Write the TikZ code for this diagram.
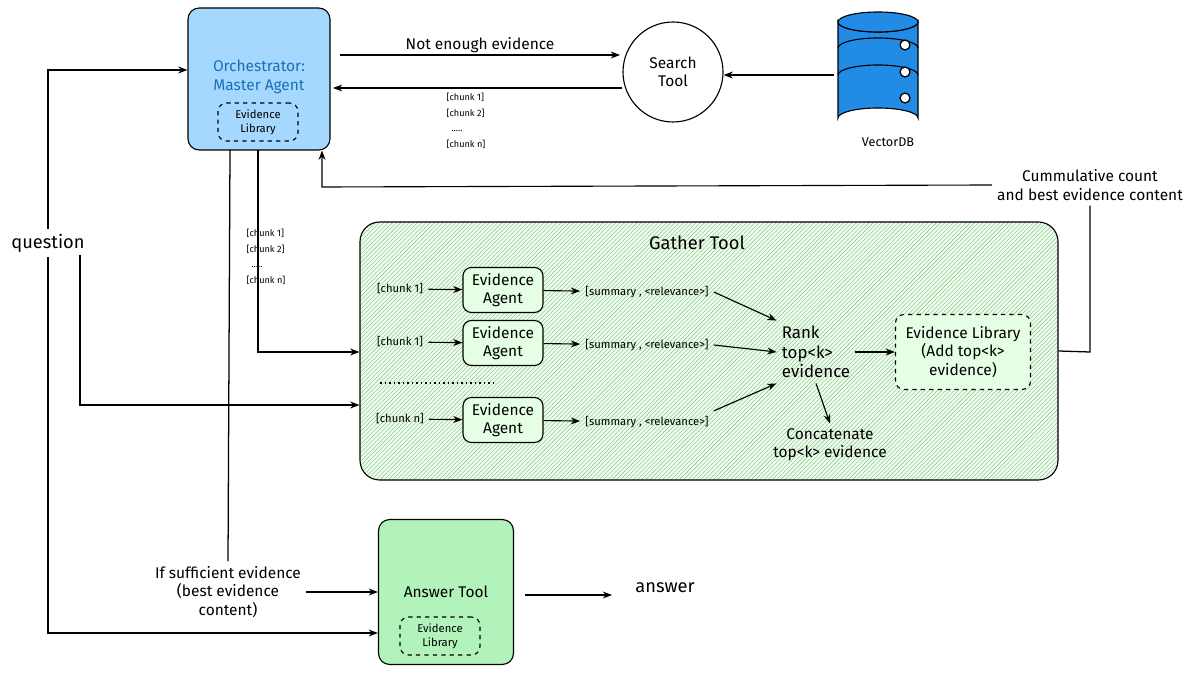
\documentclass[tikz,border=0pt]{standalone}
\usepackage{fontspec}
\setmainfont{Fira Sans}
\usetikzlibrary{arrows.meta,positioning,shapes.geometric,patterns}
\definecolor{orchblue}{HTML}{A5D8FF}
\definecolor{ansgreen}{HTML}{B2F2BB}
\definecolor{dbblue}{HTML}{228BE6}
\tikzset{
  >=Stealth,
  every picture/.append style={line width=0.9pt},
  every node/.append style={font=\fontsize{11}{13}\selectfont},
  box/.style={draw, rounded corners=8pt, align=center, thick},
  arrow/.style={-Stealth, thick},
  dashbox/.style={draw, dashed, rounded corners=6pt, align=center, thick},
  tiny/.style={font=\fontsize{6.5}{9}\selectfont, align=left}
}
\begin{document}
\begin{tikzpicture}[x=0.025cm, y=-0.025cm]
\useasboundingbox (0,0) rectangle (1200,674);

% --- Orchestrator ---
\node[box, fill=orchblue, minimum width=142*0.025cm, minimum height=142*0.025cm] (orch) at (259,79) {};
\node[text=dbblue!80!black, align=center] (orchtxt) at (259,77) {Orchestrator:\\Master Agent};
\node[dashbox, font=\fontsize{8}{10}\selectfont, minimum width=80*0.025cm, minimum height=38*0.025cm] (olib) at (258,122) {Evidence\\Library};

% --- Search tool and VectorDB ---
\node[draw, circle, thick, minimum size=100*0.025cm, align=center] (search) at (673,72) {Search\\Tool};
\draw[thick, fill=dbblue] (838,22) -- (838,118) arc[start angle=180, end angle=360, x radius=40, y radius=10]
  -- (918,22) arc[start angle=0, end angle=180, x radius=40, y radius=10] -- cycle;
\draw[thick, fill=dbblue] (878,22) ellipse[x radius=40, y radius=10];
\foreach \yy in {48,75} \draw[thick] (838,\yy) arc[start angle=180, end angle=360, x radius=40, y radius=10];
\foreach \yy in {45,72,98} \node[circle, draw, fill=white, inner sep=2.5pt] (dot\yy) at (905,\yy) {};
\node (db) at (878,70) {};
\node[font=\fontsize{9}{11}\selectfont] (dblabel) at (888,142) {VectorDB};

\coordinate (nee1) at (340,55);
\coordinate (nee2) at (620,55);
\draw[arrow] (nee1) -- node[above=-2pt] {Not enough evidence} (nee2);
\coordinate (ret1) at (622,88);
\coordinate (ret2) at (333,88);
\draw[arrow] (ret1) -- (ret2);
\node[tiny] (chunksA) at (466,121) {[chunk 1]\\[2pt][chunk 2]\\[2pt]\ \ .....\\[2pt][chunk n]};
\coordinate (dbw) at (834,75);
\draw[arrow] (dbw) -- (search.east |- dbw);

% --- Gather tool ---
\node[box, minimum width=698*0.025cm, minimum height=258*0.025cm, rounded corners=14pt,
  preaction={fill=green!6}, pattern=north east lines, pattern color=green!45!black!40] (gather) at (709,351) {};
\node[font=\fontsize{13}{15}\selectfont] (gtitle) at (697,243) {Gather Tool};

\foreach \n/\yy/\ch in {a/290/1, b/343/1, c/420/n} {
  \node[box, rounded corners=6pt, fill=green!10, minimum width=80*0.025cm, minimum height=45*0.025cm] (ag\n) at (503,\yy) {Evidence\\Agent};
  \node[font=\fontsize{8}{10}\selectfont] (ch\n) at (400,\yy-1) {[chunk \ch]};
  \node[font=\fontsize{8}{10}\selectfont] (sum\n) at (647,\yy+2) {[summary , <relevance>]};
  \draw[arrow] (ch\n) -- (ag\n);
  \draw[arrow] (ag\n) -- (sum\n);
}
\draw[dotted, very thick] (380,383) -- (495,383);
\node[align=left, font=\fontsize{12}{14}\selectfont] (rank) at (816,352) {Rank\\top<k>\\evidence};
\draw[arrow] (suma.east) -- (rank.north west);
\draw[arrow] (sumb.east) -- (rank.west);
\draw[arrow] (sumc.north east) -- (rank.south west);
\node[dashbox, fill=green!10, minimum width=135*0.025cm, minimum height=75*0.025cm] (elib) at (963,352) {Evidence Library\\(Add top<k>\\evidence)};
\draw[arrow] (rank) -- (elib);
\node[align=center] (concat) at (830,445) {Concatenate\\top<k> evidence};
\draw[arrow] (rank.south) -- (concat.north);

% --- Feedback to orchestrator ---
\node[align=center] (cum) at (1090,185) {Cummulative count\\and best evidence content};
\coordinate (fb1) at (1090,352);
\draw (gather.east) -- (fb1) -- (cum.south);
\coordinate (fb2) at (322,187);
\draw[arrow] (cum.west) -- (fb2) -- (fb2 |- orch.south);

% --- Question ---
\node[font=\fontsize{13}{15}\selectfont] (quest) at (48,243) {question};
\coordinate (q1) at (48,70);
\draw[arrow] (quest.north) -- (q1) -- (q1 -| orch.west);
\coordinate (q2) at (48,633);
\coordinate (q3) at (80,405);
\draw[arrow] (80,255) -- (q3) -- (q3 -| gather.west);

% --- Orchestrator to gather ---
\coordinate (o1) at (258,352);
\draw[arrow] (258,150) -- (o1) -- (o1 -| gather.west);
\node[tiny] (chunksB) at (266,257) {[chunk 1]\\[2pt][chunk 2]\\[2pt]\ \ .....\\[2pt][chunk n]};

% --- Answer tool ---
\node[box, fill=ansgreen, minimum width=135*0.025cm, minimum height=145*0.025cm] (ans) at (446,592) {};
\node (anstxt) at (446,592) {Answer Tool};
\node[dashbox, font=\fontsize{8}{10}\selectfont, minimum width=80*0.025cm, minimum height=38*0.025cm] (alib) at (440,636) {Evidence\\Library};
\draw[arrow] (quest.south) -- (q2) -- (q2 -| ans.west);
\node[align=center] (suff) at (228,592) {If sufficient evidence\\(best evidence\\content)};
\draw (230,150) -- (suff.north);
\draw[arrow] (suff.east) -- (suff.east -| ans.west);
\coordinate (an1) at (525,595);
\node[font=\fontsize{13}{15}\selectfont] (answer) at (665,588) {answer};
\draw[arrow] (an1) -- (612,595);
\end{tikzpicture}
\end{document}
